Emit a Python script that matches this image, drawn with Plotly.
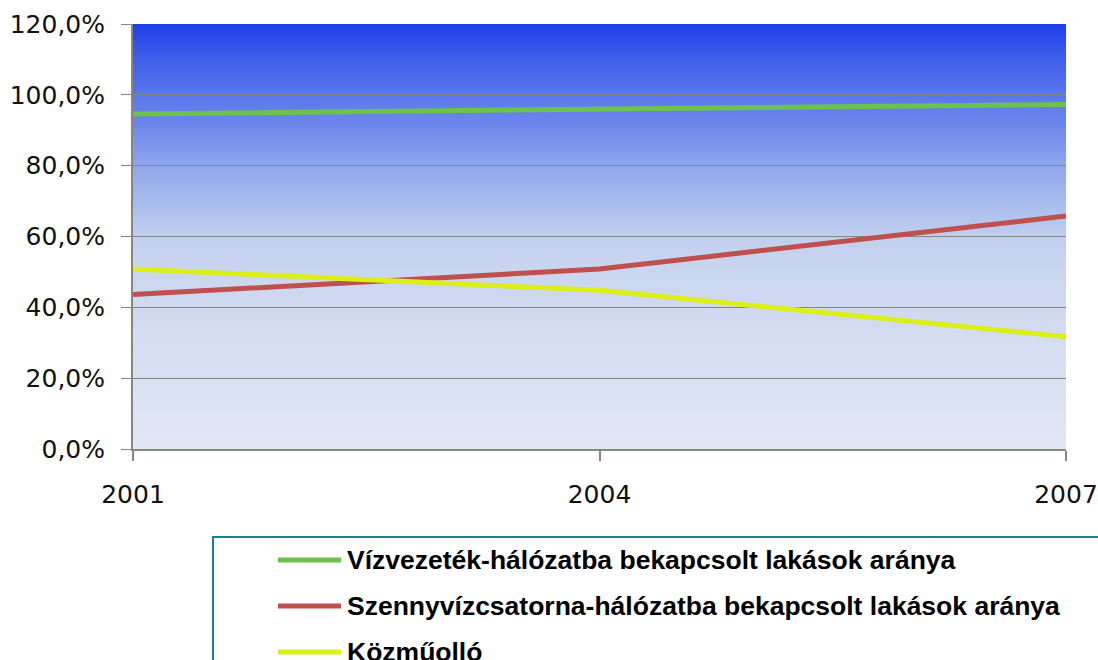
import base64, struct, zlib
import plotly.graph_objects as go

# ---------------- data ----------------
years = [2001, 2004, 2007]
viz_halozat = [94.6, 96.0, 97.3]        # Vízvezeték-hálózatba bekapcsolt lakások aránya
szennyviz_halozat = [43.6, 50.8, 65.8]  # Szennyvízcsatorna-hálózatba bekapcsolt lakások aránya
kozmuollo = [50.8, 44.8, 31.7]          # Közműolló
series_names = [
    "Vízvezeték-hálózatba bekapcsolt lakások aránya",
    "Szennyvízcsatorna-hálózatba bekapcsolt lakások aránya",
    "Közműolló",
]
series_values = [viz_halozat, szennyviz_halozat, kozmuollo]
series_colors = ["#6cc24a", "#c0504d", "#dcef18"]
y_ticks = [0, 20, 40, 60, 80, 100, 120]
y_tick_labels = ["0,0%", "20,0%", "40,0%", "60,0%", "80,0%", "100,0%", "120,0%"]
x_ticks = [2001, 2004, 2007]
x_tick_labels = ["2001", "2004", "2007"]

# ---------------- gradient background (PNG data URI) ----------------
grad_stops = [
    (0.00, (225, 231, 245)),
    (0.25, (213, 221, 241)),
    (0.45, (200, 212, 239)),
    (0.50, (192, 206, 238)),
    (0.58, (169, 188, 237)),
    (0.67, (142, 165, 236)),
    (0.76, (110, 136, 236)),
    (0.835, (90, 118, 236)),
    (0.92, (63, 95, 234)),
    (1.00, (31, 63, 232)),
]


def grad_color(f):
    for (f0, c0), (f1, c1) in zip(grad_stops[:-1], grad_stops[1:]):
        if f0 <= f <= f1:
            t = (f - f0) / (f1 - f0) if f1 > f0 else 0
            return tuple(int(round(a + (b - a) * t)) for a, b in zip(c0, c1))
    return grad_stops[-1][1]


def make_png(n_rows=425, width=2):
    raw = b""
    for i in range(n_rows):
        f = 1 - i / (n_rows - 1)  # top row = 1
        raw += b"\x00" + bytes(grad_color(f)) * width

    def chunk(tag, data):
        c = struct.pack(">I", len(data)) + tag + data
        return c + struct.pack(">I", zlib.crc32(tag + data) & 0xFFFFFFFF)

    png = b"\x89PNG\r\n\x1a\n"
    png += chunk(b"IHDR", struct.pack(">IIBBBBB", width, n_rows, 8, 2, 0, 0, 0))
    png += chunk(b"IDAT", zlib.compress(raw, 9))
    png += chunk(b"IEND", b"")
    return "data:image/png;base64," + base64.b64encode(png).decode()


# ---------------- figure ----------------
W, H = 1098, 660
ML, MR, MT, MB = 133, 32, 24, 211
plot_w = W - ML - MR
plot_h = H - MT - MB


def px_to_paper_x(px):
    return (px - ML) / plot_w


def px_to_paper_y(py):
    return (H - MB - py) / plot_h


fig = go.Figure()
for name, vals, col in zip(series_names, series_values, series_colors):
    fig.add_trace(go.Scatter(
        x=years, y=vals, name=name, mode="lines",
        line=dict(color=col, width=5), hoverinfo="skip", showlegend=False,
    ))

axis_gray = "#868686"
tick_font = dict(family="DejaVu Sans", size=25, color="#111111")

fig.update_layout(
    width=W, height=H, autosize=False,
    margin=dict(l=ML, r=MR, t=MT, b=MB, pad=0),
    paper_bgcolor="white", plot_bgcolor="white",
    xaxis=dict(
        range=[2001, 2007], tickvals=x_ticks, ticktext=x_tick_labels,
        showgrid=False, zeroline=False, showline=True, linecolor=axis_gray, linewidth=2,
        ticks="outside", ticklen=10, tickwidth=2, tickcolor=axis_gray,
        tickfont=tick_font, ticklabelstandoff=12, automargin=False,
    ),
    yaxis=dict(
        range=[0, 120], tickvals=y_ticks, ticktext=y_tick_labels,
        showgrid=True, gridcolor=axis_gray, gridwidth=1, zeroline=False,
        showline=True, linecolor=axis_gray, linewidth=2,
        ticks="outside", ticklen=10, tickwidth=1, tickcolor=axis_gray,
        tickfont=tick_font, ticklabelstandoff=11, automargin=False,
    ),
    images=[dict(
        source=make_png(), xref="paper", yref="paper", x=0, y=1, sizex=1, sizey=1,
        xanchor="left", yanchor="top", sizing="stretch", layer="below",
    )],
)

# ---------------- legend (drawn manually, box runs off the page) ----------------
legend_left, legend_top = 213, 537
fig.add_shape(type="rect", xref="paper", yref="paper",
              x0=px_to_paper_x(legend_left), x1=px_to_paper_x(W + 40),
              y0=px_to_paper_y(legend_top), y1=px_to_paper_y(H + 60),
              line=dict(color="#168096", width=2), fillcolor="rgba(0,0,0,0)", layer="above")
row0, row_gap = 560, 46
for i, (name, col) in enumerate(zip(series_names, series_colors)):
    yy = px_to_paper_y(row0 + row_gap * i)
    fig.add_shape(type="line", xref="paper", yref="paper",
                  x0=px_to_paper_x(278), x1=px_to_paper_x(341), y0=yy, y1=yy,
                  line=dict(color=col, width=5), layer="above")
    fig.add_annotation(text="<b>" + name + "</b>", xref="paper", yref="paper",
                       x=px_to_paper_x(345), y=yy, xanchor="left", yanchor="middle",
                       showarrow=False,
                       font=dict(family="Liberation Sans", size=26.5, color="#000000"))

fig.write_html("out.html")
